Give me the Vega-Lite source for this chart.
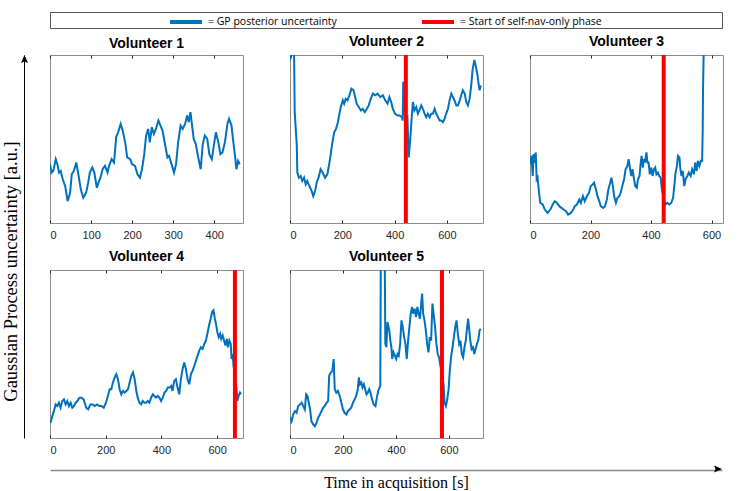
{
  "$schema": "https://vega.github.io/schema/vega-lite/v6.json",
  "background": "white",
  "padding": {"left": 1, "top": 4, "right": 5, "bottom": 5},
  "config": {
    "view": {"stroke": "#8c8c8c", "strokeWidth": 1},
    "title": {"font": "Liberation Sans", "fontSize": 14, "fontWeight": "bold", "color": "#000000", "offset": 4},
    "axis": {"domain": false, "grid": false, "ticks": true, "tickSize": -3, "tickColor": "#262626", "labelPadding": 9, "labelFont": "Liberation Sans", "labelFontSize": 11, "labelColor": "#262626"}
  },
  "datasets": {
    "gp": [
      {"v":1,"t":0,"u":35},{"v":1,"t":4,"u":30},{"v":1,"t":8,"u":31},{"v":1,"t":14,"u":38},{"v":1,"t":18,"u":35},{"v":1,"t":22,"u":30},{"v":1,"t":26,"u":31},{"v":1,"t":31,"u":26},{"v":1,"t":37,"u":22},{"v":1,"t":43,"u":13},{"v":1,"t":49,"u":18},{"v":1,"t":53,"u":29},{"v":1,"t":58,"u":31},{"v":1,"t":64,"u":36},{"v":1,"t":69,"u":29},{"v":1,"t":75,"u":20},{"v":1,"t":81,"u":15},{"v":1,"t":88,"u":18},{"v":1,"t":93,"u":24},{"v":1,"t":97,"u":30},{"v":1,"t":103,"u":33},{"v":1,"t":108,"u":30},{"v":1,"t":114,"u":21},{"v":1,"t":118,"u":24},{"v":1,"t":123,"u":27},{"v":1,"t":128,"u":32},{"v":1,"t":134,"u":34},{"v":1,"t":140,"u":30},{"v":1,"t":144,"u":34},{"v":1,"t":150,"u":38},{"v":1,"t":156,"u":36},{"v":1,"t":161,"u":51},{"v":1,"t":166,"u":54},{"v":1,"t":172,"u":59},{"v":1,"t":177,"u":55},{"v":1,"t":183,"u":48},{"v":1,"t":188,"u":39},{"v":1,"t":195,"u":38},{"v":1,"t":200,"u":35},{"v":1,"t":207,"u":34},{"v":1,"t":213,"u":29},{"v":1,"t":219,"u":27},{"v":1,"t":224,"u":32},{"v":1,"t":229,"u":40},{"v":1,"t":234,"u":52},{"v":1,"t":239,"u":56},{"v":1,"t":243,"u":48},{"v":1,"t":248,"u":57},{"v":1,"t":253,"u":53},{"v":1,"t":258,"u":56},{"v":1,"t":264,"u":61},{"v":1,"t":269,"u":58},{"v":1,"t":274,"u":55},{"v":1,"t":280,"u":47},{"v":1,"t":286,"u":39},{"v":1,"t":290,"u":40},{"v":1,"t":296,"u":35},{"v":1,"t":302,"u":30},{"v":1,"t":307,"u":35},{"v":1,"t":312,"u":48},{"v":1,"t":318,"u":58},{"v":1,"t":323,"u":56},{"v":1,"t":329,"u":59},{"v":1,"t":334,"u":64},{"v":1,"t":338,"u":60},{"v":1,"t":342,"u":66},{"v":1,"t":346,"u":58},{"v":1,"t":350,"u":50},{"v":1,"t":355,"u":47},{"v":1,"t":361,"u":39},{"v":1,"t":367,"u":32},{"v":1,"t":372,"u":47},{"v":1,"t":377,"u":52},{"v":1,"t":383,"u":50},{"v":1,"t":388,"u":41},{"v":1,"t":394,"u":38},{"v":1,"t":399,"u":46},{"v":1,"t":404,"u":54},{"v":1,"t":410,"u":48},{"v":1,"t":415,"u":41},{"v":1,"t":420,"u":42},{"v":1,"t":426,"u":48},{"v":1,"t":432,"u":59},{"v":1,"t":436,"u":62},{"v":1,"t":442,"u":58},{"v":1,"t":446,"u":49},{"v":1,"t":451,"u":39},{"v":1,"t":454,"u":32},{"v":1,"t":458,"u":37},{"v":1,"t":462,"u":35},

      {"v":2,"t":0,"u":97},{"v":2,"t":4,"u":99},{"v":2,"t":9,"u":105},{"v":2,"t":15,"u":110},{"v":2,"t":18,"u":66},{"v":2,"t":22,"u":56},{"v":2,"t":26,"u":46},{"v":2,"t":28,"u":30},{"v":2,"t":34,"u":27},{"v":2,"t":41,"u":28},{"v":2,"t":47,"u":25},{"v":2,"t":54,"u":27},{"v":2,"t":60,"u":23},{"v":2,"t":66,"u":25},{"v":2,"t":74,"u":22},{"v":2,"t":83,"u":19},{"v":2,"t":89,"u":16},{"v":2,"t":96,"u":19},{"v":2,"t":102,"u":24},{"v":2,"t":109,"u":27},{"v":2,"t":117,"u":32},{"v":2,"t":125,"u":30},{"v":2,"t":134,"u":27},{"v":2,"t":143,"u":29},{"v":2,"t":153,"u":38},{"v":2,"t":162,"u":48},{"v":2,"t":169,"u":54},{"v":2,"t":176,"u":56},{"v":2,"t":183,"u":60},{"v":2,"t":189,"u":65},{"v":2,"t":194,"u":69},{"v":2,"t":202,"u":73},{"v":2,"t":207,"u":71},{"v":2,"t":213,"u":74},{"v":2,"t":220,"u":73},{"v":2,"t":227,"u":76},{"v":2,"t":235,"u":80},{"v":2,"t":243,"u":79},{"v":2,"t":249,"u":75},{"v":2,"t":255,"u":71},{"v":2,"t":263,"u":69},{"v":2,"t":271,"u":67},{"v":2,"t":278,"u":68},{"v":2,"t":286,"u":66},{"v":2,"t":294,"u":68},{"v":2,"t":301,"u":70},{"v":2,"t":309,"u":74},{"v":2,"t":317,"u":77},{"v":2,"t":326,"u":76},{"v":2,"t":335,"u":77},{"v":2,"t":345,"u":75},{"v":2,"t":355,"u":76},{"v":2,"t":364,"u":73},{"v":2,"t":373,"u":71},{"v":2,"t":380,"u":75},{"v":2,"t":387,"u":72},{"v":2,"t":393,"u":68},{"v":2,"t":402,"u":65},{"v":2,"t":411,"u":64},{"v":2,"t":419,"u":64},{"v":2,"t":428,"u":63},{"v":2,"t":431,"u":61},{"v":2,"t":433,"u":84},{"v":2,"t":435,"u":66},{"v":2,"t":440,"u":64},{"v":2,"t":444,"u":62},{"v":2,"t":449,"u":63},{"v":2,"t":454,"u":39},{"v":2,"t":460,"u":50},{"v":2,"t":465,"u":62},{"v":2,"t":470,"u":72},{"v":2,"t":476,"u":67},{"v":2,"t":483,"u":69},{"v":2,"t":489,"u":65},{"v":2,"t":495,"u":67},{"v":2,"t":502,"u":70},{"v":2,"t":508,"u":68},{"v":2,"t":515,"u":65},{"v":2,"t":521,"u":63},{"v":2,"t":527,"u":65},{"v":2,"t":534,"u":63},{"v":2,"t":540,"u":65},{"v":2,"t":546,"u":65},{"v":2,"t":553,"u":68},{"v":2,"t":559,"u":65},{"v":2,"t":566,"u":63},{"v":2,"t":572,"u":61},{"v":2,"t":578,"u":61},{"v":2,"t":585,"u":60},{"v":2,"t":591,"u":62},{"v":2,"t":597,"u":65},{"v":2,"t":604,"u":68},{"v":2,"t":610,"u":73},{"v":2,"t":617,"u":77},{"v":2,"t":623,"u":75},{"v":2,"t":629,"u":73},{"v":2,"t":636,"u":70},{"v":2,"t":642,"u":70},{"v":2,"t":649,"u":73},{"v":2,"t":655,"u":76},{"v":2,"t":661,"u":79},{"v":2,"t":668,"u":77},{"v":2,"t":674,"u":72},{"v":2,"t":680,"u":70},{"v":2,"t":687,"u":74},{"v":2,"t":693,"u":82},{"v":2,"t":698,"u":91},{"v":2,"t":705,"u":97},{"v":2,"t":711,"u":93},{"v":2,"t":716,"u":89},{"v":2,"t":721,"u":83},{"v":2,"t":725,"u":79},{"v":2,"t":729,"u":82},

      {"v":3,"t":0,"u":35},{"v":3,"t":5,"u":40},{"v":3,"t":9,"u":28},{"v":3,"t":12,"u":41},{"v":3,"t":15,"u":36},{"v":3,"t":19,"u":42},{"v":3,"t":22,"u":26},{"v":3,"t":25,"u":27},{"v":3,"t":30,"u":18},{"v":3,"t":34,"u":12},{"v":3,"t":42,"u":11},{"v":3,"t":49,"u":8},{"v":3,"t":58,"u":6},{"v":3,"t":67,"u":8},{"v":3,"t":75,"u":11},{"v":3,"t":82,"u":13},{"v":3,"t":89,"u":12},{"v":3,"t":97,"u":10},{"v":3,"t":104,"u":9},{"v":3,"t":111,"u":8},{"v":3,"t":119,"u":7},{"v":3,"t":126,"u":5},{"v":3,"t":135,"u":6},{"v":3,"t":143,"u":8},{"v":3,"t":148,"u":10},{"v":3,"t":155,"u":11},{"v":3,"t":163,"u":14},{"v":3,"t":168,"u":12},{"v":3,"t":175,"u":16},{"v":3,"t":181,"u":13},{"v":3,"t":188,"u":16},{"v":3,"t":195,"u":18},{"v":3,"t":201,"u":22},{"v":3,"t":208,"u":23},{"v":3,"t":212,"u":24},{"v":3,"t":218,"u":20},{"v":3,"t":223,"u":16},{"v":3,"t":229,"u":13},{"v":3,"t":234,"u":10},{"v":3,"t":242,"u":9},{"v":3,"t":248,"u":10},{"v":3,"t":254,"u":14},{"v":3,"t":259,"u":20},{"v":3,"t":265,"u":24},{"v":3,"t":269,"u":27},{"v":3,"t":274,"u":22},{"v":3,"t":278,"u":16},{"v":3,"t":284,"u":12},{"v":3,"t":289,"u":15},{"v":3,"t":295,"u":16},{"v":3,"t":300,"u":18},{"v":3,"t":305,"u":22},{"v":3,"t":311,"u":26},{"v":3,"t":316,"u":32},{"v":3,"t":322,"u":34},{"v":3,"t":326,"u":38},{"v":3,"t":331,"u":32},{"v":3,"t":335,"u":28},{"v":3,"t":339,"u":32},{"v":3,"t":344,"u":26},{"v":3,"t":348,"u":22},{"v":3,"t":353,"u":21},{"v":3,"t":357,"u":26},{"v":3,"t":362,"u":28},{"v":3,"t":366,"u":36},{"v":3,"t":369,"u":40},{"v":3,"t":373,"u":33},{"v":3,"t":376,"u":38},{"v":3,"t":380,"u":36},{"v":3,"t":385,"u":42},{"v":3,"t":388,"u":36},{"v":3,"t":392,"u":36},{"v":3,"t":396,"u":29},{"v":3,"t":401,"u":33},{"v":3,"t":405,"u":28},{"v":3,"t":410,"u":32},{"v":3,"t":414,"u":33},{"v":3,"t":418,"u":29},{"v":3,"t":423,"u":30},{"v":3,"t":427,"u":28},{"v":3,"t":432,"u":27},{"v":3,"t":436,"u":20},{"v":3,"t":443,"u":14},{"v":3,"t":448,"u":11},{"v":3,"t":454,"u":12},{"v":3,"t":460,"u":11},{"v":3,"t":467,"u":12},{"v":3,"t":473,"u":15},{"v":3,"t":477,"u":22},{"v":3,"t":481,"u":30},{"v":3,"t":486,"u":34},{"v":3,"t":489,"u":40},{"v":3,"t":494,"u":39},{"v":3,"t":497,"u":32},{"v":3,"t":501,"u":28},{"v":3,"t":505,"u":31},{"v":3,"t":510,"u":22},{"v":3,"t":514,"u":26},{"v":3,"t":520,"u":28},{"v":3,"t":525,"u":30},{"v":3,"t":531,"u":28},{"v":3,"t":536,"u":32},{"v":3,"t":542,"u":29},{"v":3,"t":546,"u":36},{"v":3,"t":551,"u":31},{"v":3,"t":555,"u":37},{"v":3,"t":560,"u":34},{"v":3,"t":565,"u":37},{"v":3,"t":569,"u":37},{"v":3,"t":571,"u":56},{"v":3,"t":572,"u":80},{"v":3,"t":574,"u":100},{"v":3,"t":576,"u":115},

      {"v":4,"t":2,"u":9},{"v":4,"t":8,"u":13},{"v":4,"t":14,"u":16},{"v":4,"t":20,"u":20},{"v":4,"t":26,"u":19},{"v":4,"t":32,"u":21},{"v":4,"t":38,"u":18},{"v":4,"t":44,"u":22},{"v":4,"t":50,"u":23},{"v":4,"t":56,"u":20},{"v":4,"t":62,"u":22},{"v":4,"t":68,"u":19},{"v":4,"t":74,"u":21},{"v":4,"t":80,"u":18},{"v":4,"t":86,"u":19},{"v":4,"t":92,"u":21},{"v":4,"t":98,"u":22},{"v":4,"t":106,"u":24},{"v":4,"t":113,"u":24},{"v":4,"t":121,"u":23},{"v":4,"t":130,"u":18},{"v":4,"t":137,"u":17},{"v":4,"t":145,"u":20},{"v":4,"t":154,"u":20},{"v":4,"t":161,"u":19},{"v":4,"t":169,"u":20},{"v":4,"t":177,"u":19},{"v":4,"t":185,"u":19},{"v":4,"t":193,"u":18},{"v":4,"t":201,"u":21},{"v":4,"t":208,"u":25},{"v":4,"t":214,"u":29},{"v":4,"t":220,"u":29},{"v":4,"t":226,"u":33},{"v":4,"t":232,"u":36},{"v":4,"t":238,"u":38},{"v":4,"t":244,"u":35},{"v":4,"t":250,"u":29},{"v":4,"t":256,"u":26},{"v":4,"t":262,"u":28},{"v":4,"t":268,"u":27},{"v":4,"t":274,"u":28},{"v":4,"t":280,"u":29},{"v":4,"t":286,"u":33},{"v":4,"t":292,"u":37},{"v":4,"t":298,"u":39},{"v":4,"t":304,"u":35},{"v":4,"t":310,"u":28},{"v":4,"t":315,"u":24},{"v":4,"t":321,"u":21},{"v":4,"t":327,"u":20},{"v":4,"t":333,"u":22},{"v":4,"t":339,"u":21},{"v":4,"t":345,"u":21},{"v":4,"t":351,"u":22},{"v":4,"t":357,"u":21},{"v":4,"t":363,"u":24},{"v":4,"t":369,"u":26},{"v":4,"t":375,"u":25},{"v":4,"t":381,"u":24},{"v":4,"t":387,"u":25},{"v":4,"t":393,"u":24},{"v":4,"t":399,"u":22},{"v":4,"t":405,"u":24},{"v":4,"t":411,"u":27},{"v":4,"t":417,"u":28},{"v":4,"t":423,"u":30},{"v":4,"t":429,"u":30},{"v":4,"t":435,"u":31},{"v":4,"t":440,"u":28},{"v":4,"t":446,"u":34},{"v":4,"t":452,"u":35},{"v":4,"t":458,"u":30},{"v":4,"t":464,"u":26},{"v":4,"t":470,"u":35},{"v":4,"t":476,"u":41},{"v":4,"t":482,"u":45},{"v":4,"t":488,"u":41},{"v":4,"t":494,"u":35},{"v":4,"t":500,"u":32},{"v":4,"t":506,"u":38},{"v":4,"t":512,"u":40},{"v":4,"t":518,"u":43},{"v":4,"t":524,"u":46},{"v":4,"t":530,"u":49},{"v":4,"t":536,"u":52},{"v":4,"t":542,"u":54},{"v":4,"t":548,"u":53},{"v":4,"t":554,"u":56},{"v":4,"t":560,"u":58},{"v":4,"t":565,"u":62},{"v":4,"t":571,"u":67},{"v":4,"t":577,"u":71},{"v":4,"t":582,"u":75},{"v":4,"t":587,"u":76},{"v":4,"t":592,"u":71},{"v":4,"t":596,"u":68},{"v":4,"t":601,"u":63},{"v":4,"t":606,"u":60},{"v":4,"t":611,"u":62},{"v":4,"t":615,"u":59},{"v":4,"t":620,"u":61},{"v":4,"t":625,"u":58},{"v":4,"t":630,"u":55},{"v":4,"t":635,"u":59},{"v":4,"t":639,"u":54},{"v":4,"t":644,"u":58},{"v":4,"t":649,"u":56},{"v":4,"t":652,"u":47},{"v":4,"t":656,"u":50},{"v":4,"t":659,"u":43},{"v":4,"t":664,"u":38},{"v":4,"t":669,"u":31},{"v":4,"t":673,"u":22},{"v":4,"t":677,"u":25},{"v":4,"t":682,"u":27},{"v":4,"t":686,"u":26},

      {"v":5,"t":1,"u":12},{"v":5,"t":6,"u":10},{"v":5,"t":12,"u":14},{"v":5,"t":19,"u":16},{"v":5,"t":25,"u":15},{"v":5,"t":31,"u":19},{"v":5,"t":38,"u":20},{"v":5,"t":44,"u":21},{"v":5,"t":50,"u":19},{"v":5,"t":56,"u":17},{"v":5,"t":61,"u":26},{"v":5,"t":66,"u":25},{"v":5,"t":71,"u":21},{"v":5,"t":76,"u":17},{"v":5,"t":81,"u":10},{"v":5,"t":88,"u":8},{"v":5,"t":94,"u":7},{"v":5,"t":100,"u":9},{"v":5,"t":106,"u":12},{"v":5,"t":113,"u":14},{"v":5,"t":119,"u":16},{"v":5,"t":125,"u":18},{"v":5,"t":131,"u":19},{"v":5,"t":138,"u":21},{"v":5,"t":144,"u":22},{"v":5,"t":148,"u":37},{"v":5,"t":154,"u":39},{"v":5,"t":160,"u":40},{"v":5,"t":165,"u":47},{"v":5,"t":169,"u":29},{"v":5,"t":175,"u":27},{"v":5,"t":181,"u":28},{"v":5,"t":188,"u":25},{"v":5,"t":194,"u":21},{"v":5,"t":200,"u":17},{"v":5,"t":206,"u":15},{"v":5,"t":213,"u":14},{"v":5,"t":219,"u":16},{"v":5,"t":225,"u":17},{"v":5,"t":231,"u":18},{"v":5,"t":238,"u":21},{"v":5,"t":244,"u":23},{"v":5,"t":250,"u":25},{"v":5,"t":256,"u":29},{"v":5,"t":260,"u":36},{"v":5,"t":264,"u":32},{"v":5,"t":269,"u":33},{"v":5,"t":274,"u":30},{"v":5,"t":279,"u":32},{"v":5,"t":284,"u":29},{"v":5,"t":289,"u":26},{"v":5,"t":294,"u":27},{"v":5,"t":299,"u":29},{"v":5,"t":304,"u":27},{"v":5,"t":310,"u":23},{"v":5,"t":316,"u":20},{"v":5,"t":323,"u":19},{"v":5,"t":328,"u":24},{"v":5,"t":333,"u":28},{"v":5,"t":338,"u":30},{"v":5,"t":341,"u":31},{"v":5,"t":343,"u":106},{"v":5,"t":358,"u":106},{"v":5,"t":360,"u":56},{"v":5,"t":364,"u":54},{"v":5,"t":368,"u":69},{"v":5,"t":371,"u":67},{"v":5,"t":375,"u":64},{"v":5,"t":379,"u":58},{"v":5,"t":383,"u":54},{"v":5,"t":386,"u":47},{"v":5,"t":391,"u":51},{"v":5,"t":396,"u":49},{"v":5,"t":401,"u":47},{"v":5,"t":406,"u":50},{"v":5,"t":411,"u":49},{"v":5,"t":416,"u":56},{"v":5,"t":421,"u":70},{"v":5,"t":426,"u":66},{"v":5,"t":431,"u":60},{"v":5,"t":436,"u":56},{"v":5,"t":441,"u":47},{"v":5,"t":446,"u":58},{"v":5,"t":451,"u":66},{"v":5,"t":456,"u":74},{"v":5,"t":461,"u":78},{"v":5,"t":466,"u":74},{"v":5,"t":471,"u":77},{"v":5,"t":476,"u":72},{"v":5,"t":481,"u":78},{"v":5,"t":486,"u":74},{"v":5,"t":491,"u":71},{"v":5,"t":496,"u":81},{"v":5,"t":499,"u":86},{"v":5,"t":503,"u":74},{"v":5,"t":508,"u":70},{"v":5,"t":513,"u":64},{"v":5,"t":518,"u":56},{"v":5,"t":523,"u":51},{"v":5,"t":528,"u":60},{"v":5,"t":533,"u":58},{"v":5,"t":538,"u":80},{"v":5,"t":543,"u":73},{"v":5,"t":548,"u":66},{"v":5,"t":553,"u":56},{"v":5,"t":558,"u":50},{"v":5,"t":563,"u":48},{"v":5,"t":568,"u":43},{"v":5,"t":574,"u":38},{"v":5,"t":580,"u":32},{"v":5,"t":584,"u":21},{"v":5,"t":589,"u":19},{"v":5,"t":594,"u":23},{"v":5,"t":599,"u":29},{"v":5,"t":604,"u":41},{"v":5,"t":609,"u":49},{"v":5,"t":614,"u":54},{"v":5,"t":619,"u":60},{"v":5,"t":624,"u":66},{"v":5,"t":629,"u":70},{"v":5,"t":634,"u":62},{"v":5,"t":639,"u":56},{"v":5,"t":644,"u":58},{"v":5,"t":649,"u":50},{"v":5,"t":654,"u":48},{"v":5,"t":659,"u":54},{"v":5,"t":664,"u":58},{"v":5,"t":669,"u":66},{"v":5,"t":673,"u":71},{"v":5,"t":676,"u":66},{"v":5,"t":681,"u":58},{"v":5,"t":686,"u":53},{"v":5,"t":691,"u":54},{"v":5,"t":696,"u":50},{"v":5,"t":701,"u":53},{"v":5,"t":706,"u":56},{"v":5,"t":711,"u":58},{"v":5,"t":716,"u":64},{"v":5,"t":720,"u":65}
    ],
    "nav": [{"v":2,"t":443},{"v":3,"t":442},{"v":4,"t":664},{"v":5,"t":574}],
    "leg": [{"k":"= GP posterior uncertainty"},{"k":"= Start of self-nav-only phase"}],
    "one": [{"a":1}]
  },
  "bounds": "flush",
  "spacing": 26,
  "hconcat": [
    {
      "bounds": "flush",
      "spacing": 27,
      "vconcat": [
        {"width": 1, "height": 16, "view": {"stroke": null}, "data": {"name": "one"}, "mark": {"type": "point", "opacity": 0}},
        {
          "width": 1, "height": 383, "view": {"stroke": null},
          "data": {"name": "one"},
          "mark": {"type": "point", "shape": "M0,0L0.7,1.6L0,1.3L-0.7,1.6Z", "filled": true, "color": "#000000", "opacity": 1, "size": 100},
          "encoding": {
            "y": {"datum": 1, "type": "quantitative", "scale": {"domain": [0, 1]},
              "axis": {"orient": "left", "domain": true, "domainColor": "#000000", "domainWidth": 1, "ticks": false, "labels": false, "grid": false,
                "title": "Gaussian Process uncertainty [a.u.]", "titleFont": "Liberation Serif", "titleFontSize": 18.5, "titleFontWeight": "normal", "titleColor": "#000000", "titlePadding": 4, "titleY": 216}}
          }
        }
      ]
    },
    {
      "bounds": "flush",
      "spacing": 27,
      "vconcat": [
        {
          "width": 672, "height": 16, "view": {"stroke": "#555555"},
          "data": {"name": "leg"},
          "mark": {"type": "line", "opacity": 0},
          "encoding": {
            "x": {"datum": 0, "type": "quantitative", "scale": {"domain": [0, 1]}, "axis": null},
            "y": {"datum": 0, "type": "quantitative", "scale": {"domain": [0, 1]}, "axis": null},
            "color": {"field": "k", "type": "nominal",
              "scale": {"domain": ["= GP posterior uncertainty", "= Start of self-nav-only phase"], "range": ["#0072BD", "#FF0000"]},
              "legend": {"orient": "none", "legendX": 144, "legendY": -8, "direction": "horizontal", "title": null, "padding": 0,
                "symbolType": "stroke", "symbolSize": 1024, "symbolStrokeWidth": 4, "symbolOpacity": 1,
                "labelFont": "Open Sans", "labelFontSize": 10.5, "labelColor": "#000000", "labelOffset": 4, "columnPadding": 77}}
          }
        },
        {
          "bounds": "flush",
          "spacing": 414,
          "vconcat": [
            {
              "bounds": "flush",
              "spacing": 215,
              "vconcat": [
                {
                  "bounds": "flush",
                  "spacing": 47,
                  "hconcat": [
                    {
                      "title": "Volunteer 1", "width": 193, "height": 168,
                      "resolve": {"axis": {"x": "independent"}},
                      "layer": [
                        {"data": {"name": "gp"}, "transform": [{"filter": "datum.v == 1"}],
                          "mark": {"type": "line", "color": "#0072BD", "strokeWidth": 2, "clip": true},
                          "encoding": {
                            "x": {"field": "t", "type": "quantitative", "scale": {"domain": [0, 470], "nice": false, "zero": false}, "axis": {"values": [0, 100, 200, 300, 400], "title": null}},
                            "y": {"field": "u", "type": "quantitative", "scale": {"domain": [0, 100]}, "axis": null}}},
                        {"data": {"name": "nav"}, "transform": [{"filter": "datum.v == 1"}],
                          "mark": {"type": "rule", "color": "#FF0000", "strokeWidth": 4},
                          "encoding": {"x": {"field": "t", "type": "quantitative", "axis": {"orient": "top", "values": [0, 100, 200, 300, 400], "labels": false, "title": null}}}}
                      ]
                    },
                    {
                      "title": "Volunteer 2", "width": 193, "height": 168,
                      "resolve": {"axis": {"x": "independent"}},
                      "layer": [
                        {"data": {"name": "gp"}, "transform": [{"filter": "datum.v == 2"}],
                          "mark": {"type": "line", "color": "#0072BD", "strokeWidth": 2, "clip": true},
                          "encoding": {
                            "x": {"field": "t", "type": "quantitative", "scale": {"domain": [0, 738], "nice": false, "zero": false}, "axis": {"values": [0, 200, 400, 600], "title": null}},
                            "y": {"field": "u", "type": "quantitative", "scale": {"domain": [0, 100]}, "axis": null}}},
                        {"data": {"name": "nav"}, "transform": [{"filter": "datum.v == 2"}],
                          "mark": {"type": "rule", "color": "#FF0000", "strokeWidth": 4},
                          "encoding": {"x": {"field": "t", "type": "quantitative", "axis": {"orient": "top", "values": [0, 200, 400, 600], "labels": false, "title": null}}}}
                      ]
                    },
                    {
                      "title": "Volunteer 3", "width": 193, "height": 168,
                      "resolve": {"axis": {"x": "independent"}},
                      "layer": [
                        {"data": {"name": "gp"}, "transform": [{"filter": "datum.v == 3"}],
                          "mark": {"type": "line", "color": "#0072BD", "strokeWidth": 2, "clip": true},
                          "encoding": {
                            "x": {"field": "t", "type": "quantitative", "scale": {"domain": [0, 638], "nice": false, "zero": false}, "axis": {"values": [0, 200, 400, 600], "title": null}},
                            "y": {"field": "u", "type": "quantitative", "scale": {"domain": [0, 100]}, "axis": null}}},
                        {"data": {"name": "nav"}, "transform": [{"filter": "datum.v == 3"}],
                          "mark": {"type": "rule", "color": "#FF0000", "strokeWidth": 4},
                          "encoding": {"x": {"field": "t", "type": "quantitative", "axis": {"orient": "top", "values": [0, 200, 400, 600], "labels": false, "title": null}}}}
                      ]
                    }
                  ]
                },
                {
                  "bounds": "flush",
                  "spacing": 47,
                  "hconcat": [
                    {
                      "title": "Volunteer 4", "width": 193, "height": 168,
                      "resolve": {"axis": {"x": "independent"}},
                      "layer": [
                        {"data": {"name": "gp"}, "transform": [{"filter": "datum.v == 4"}],
                          "mark": {"type": "line", "color": "#0072BD", "strokeWidth": 2, "clip": true},
                          "encoding": {
                            "x": {"field": "t", "type": "quantitative", "scale": {"domain": [0, 693], "nice": false, "zero": false}, "axis": {"values": [0, 200, 400, 600], "title": null}},
                            "y": {"field": "u", "type": "quantitative", "scale": {"domain": [0, 100]}, "axis": null}}},
                        {"data": {"name": "nav"}, "transform": [{"filter": "datum.v == 4"}],
                          "mark": {"type": "rule", "color": "#FF0000", "strokeWidth": 4},
                          "encoding": {"x": {"field": "t", "type": "quantitative", "axis": {"orient": "top", "values": [0, 200, 400, 600], "labels": false, "title": null}}}}
                      ]
                    },
                    {
                      "title": "Volunteer 5", "width": 193, "height": 168,
                      "resolve": {"axis": {"x": "independent"}},
                      "layer": [
                        {"data": {"name": "gp"}, "transform": [{"filter": "datum.v == 5"}],
                          "mark": {"type": "line", "color": "#0072BD", "strokeWidth": 2, "clip": true},
                          "encoding": {
                            "x": {"field": "t", "type": "quantitative", "scale": {"domain": [0, 729], "nice": false, "zero": false}, "axis": {"values": [0, 200, 400, 600], "title": null}},
                            "y": {"field": "u", "type": "quantitative", "scale": {"domain": [0, 100]}, "axis": null}}},
                        {"data": {"name": "nav"}, "transform": [{"filter": "datum.v == 5"}],
                          "mark": {"type": "rule", "color": "#FF0000", "strokeWidth": 4},
                          "encoding": {"x": {"field": "t", "type": "quantitative", "axis": {"orient": "top", "values": [0, 200, 400, 600], "labels": false, "title": null}}}}
                      ]
                    }
                  ]
                }
              ]
            },
            {
              "width": 672, "height": 1, "view": {"stroke": null},
              "data": {"name": "one"},
              "mark": {"type": "point", "shape": "M0,0L-1.6,-0.7L-1.3,0L-1.6,0.7Z", "filled": true, "color": "#000000", "opacity": 1, "size": 100},
              "encoding": {
                "x": {"datum": 1, "type": "quantitative", "scale": {"domain": [0, 1]},
                  "axis": {"orient": "bottom", "domain": true, "domainColor": "#888888", "domainWidth": 1.5, "ticks": false, "labels": false, "grid": false,
                    "title": "Time in acquisition [s]", "titleFont": "Liberation Serif", "titleFontSize": 16, "titleFontWeight": "normal", "titleColor": "#000000", "titlePadding": 4, "titleX": 346}},
                "y": {"datum": 1, "type": "quantitative", "scale": {"domain": [0, 1]}, "axis": null}
              }
            }
          ]
        }
      ]
    }
  ]
}
